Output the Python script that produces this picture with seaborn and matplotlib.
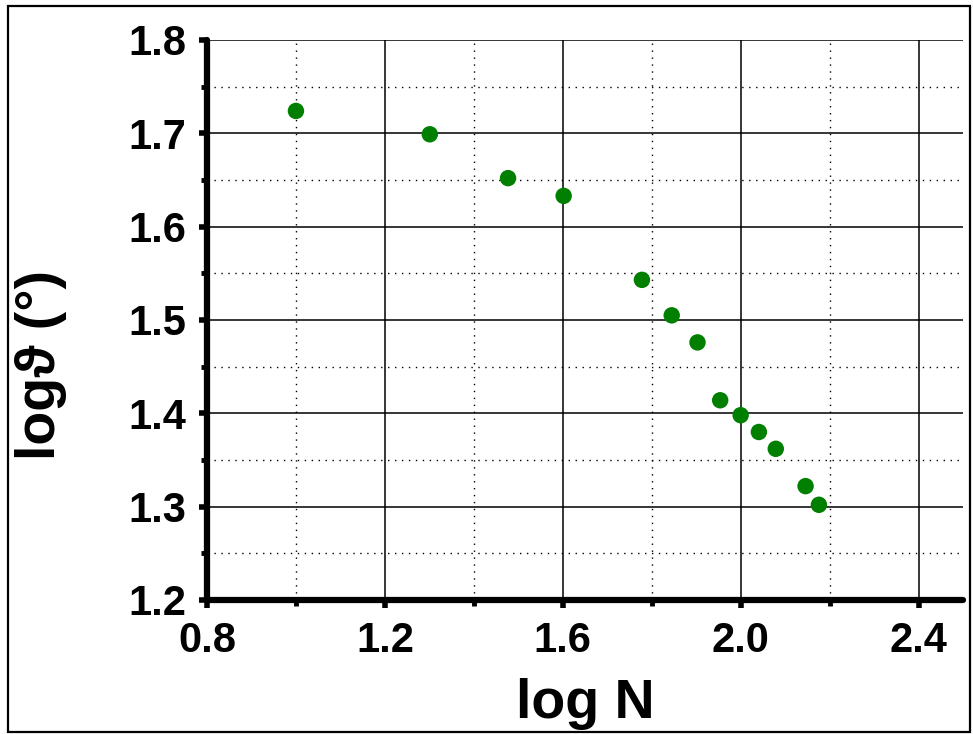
import matplotlib
matplotlib.use("Agg")
import matplotlib.pyplot as plt
import seaborn as sns
import pandas as pd
from matplotlib.ticker import MultipleLocator
from matplotlib.patches import Rectangle

log_n = [1.000, 1.301, 1.477, 1.602, 1.778, 1.845, 1.903, 1.954, 2.000, 2.041, 2.079, 2.146, 2.176]
log_theta = [1.724, 1.699, 1.652, 1.633, 1.543, 1.505, 1.476, 1.414, 1.398, 1.380, 1.362, 1.322, 1.302]
x_ticks = [0.8, 1.2, 1.6, 2.0, 2.4]
y_ticks = [1.2, 1.3, 1.4, 1.5, 1.6, 1.7, 1.8]

df = pd.DataFrame({"logN": log_n, "logTheta": log_theta})

sns.set_theme(style="white")
plt.rcParams['font.family'] = ['Liberation Sans', 'DejaVu Sans']
plt.rcParams['text.color'] = 'black'
plt.rcParams['axes.labelcolor'] = 'black'
plt.rcParams['xtick.color'] = 'black'
plt.rcParams['ytick.color'] = 'black'

fig = plt.figure(figsize=(9.73, 7.34), dpi=100)
ax = fig.add_axes([207/973, 1-600/734, (963-207)/973, (600-40)/734])

ax.set_xlim(0.8, 2.5)
ax.set_ylim(1.2, 1.8)
ax.xaxis.set_minor_locator(MultipleLocator(0.2))
ax.yaxis.set_minor_locator(MultipleLocator(0.05))

ax.grid(which="major", color="black", linewidth=1.1, linestyle="-")
ax.grid(which="minor", color="black", linewidth=1.0, linestyle=(0, (1, 4)))
ax.set_axisbelow(True)

sns.scatterplot(data=df, x="logN", y="logTheta", ax=ax, s=140, color="#007f00",
                edgecolor="none", zorder=5, clip_on=False)

for side in ["top", "right"]:
    ax.spines[side].set_visible(False)
for side in ["left", "bottom"]:
    ax.spines[side].set_linewidth(4.5)
    ax.spines[side].set_color("black")
    ax.spines[side].set_capstyle("round")

ax.set_xticks(x_ticks)
ax.set_xticklabels([f"{v:.1f}" for v in x_ticks], fontweight="bold", fontsize=30)
ax.set_yticks(y_ticks)
ax.set_yticklabels([f"{v:.1f}" for v in y_ticks], fontweight="bold", fontsize=30)
ax.xaxis.set_minor_locator(MultipleLocator(0.2))
ax.yaxis.set_minor_locator(MultipleLocator(0.05))

ax.tick_params(which="major", direction="out", length=6, width=4, color="black",
               labelcolor="black", pad=9, left=True, bottom=True)
ax.tick_params(which="minor", direction="out", length=4, width=3.5, color="black",
               left=True, bottom=True)

ax.set_xlabel("log N", fontsize=40, fontweight="bold", labelpad=12, color="black")
ax.set_ylabel("log\u03d1 (°)", fontsize=40, fontweight="bold", color="black")
ax.yaxis.set_label_coords(-0.185, 0.42)

fig.add_artist(Rectangle((8/973, 1-732/734), (970-8)/973, (732-6)/734,
                         transform=fig.transFigure, fill=False, edgecolor="black",
                         linewidth=1.6))

fig.savefig("out.png", dpi=100, facecolor="white")
